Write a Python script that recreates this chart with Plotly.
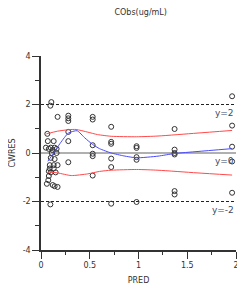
import plotly.graph_objects as go

# observed points
pred = [0.106, 0.096, 0.17, 0.065, 0.07, 0.13, 0.05, 0.08, 0.10, 0.12, 0.14, 0.16,
        0.11, 0.16, 0.10, 0.14, 0.09, 0.13, 0.17, 0.09, 0.13, 0.08, 0.10, 0.15,
        0.08, 0.075, 0.06, 0.12, 0.14, 0.17, 0.096,
        0.28, 0.28, 0.28, 0.28, 0.28, 0.28,
        0.53, 0.53, 0.53, 0.53, 0.53, 0.53,
        0.72, 0.72, 0.72, 0.72, 0.72, 0.72,
        0.98, 0.98, 0.98, 0.98, 0.98,
        1.37, 1.37, 1.37, 1.37, 1.37, 1.37,
        1.96, 1.96, 1.96, 1.96, 1.96]
cwres = [2.1, 1.95, 1.49, 0.79, 0.49, 0.49, 0.22, 0.17, 0.22, 0.12, 0.22, 0.17,
         0.0, 0.0, -0.2, -0.25, -0.5, -0.5, -0.5, -0.64, -0.64, -0.75, -0.8, -0.8,
         -0.95, -1.12, -1.27, -1.32, -1.37, -1.4, -2.12,
         1.54, 1.43, 1.32, 0.87, 0.49, -0.38,
         1.49, 1.38, 0.32, -0.03, -0.13, -0.93,
         1.08, 0.46, 0.38, -0.23, -0.58, -2.09,
         0.28, 0.21, -0.17, -0.28, -2.02,
         0.99, 0.14, 0.0, -0.06, -1.57, -1.71,
         2.34, 1.13, 0.26, -0.35, -1.64]

# smooth curves
med_x = [0.07, 0.12, 0.2, 0.28, 0.37, 0.45, 0.53, 0.6, 0.72, 0.85, 0.98, 1.2, 1.37, 1.6, 1.96]
med_y = [-0.34, -0.06, 0.42, 0.82, 0.92, 0.62, 0.35, 0.18, 0.0, -0.12, -0.2, -0.13, -0.02, 0.06, 0.18]
up_x = [0.055, 0.17, 0.28, 0.36, 0.48, 0.58, 0.72, 0.98, 1.2, 1.6, 1.96]
up_y = [0.79, 0.9, 0.96, 0.97, 0.86, 0.76, 0.69, 0.67, 0.7, 0.82, 0.93]
lo_x = [0.07, 0.17, 0.31, 0.48, 0.6, 0.72, 0.98, 1.2, 1.6, 1.96]
lo_y = [-0.78, -0.82, -0.93, -0.86, -0.76, -0.71, -0.68, -0.71, -0.82, -0.91]

ref_levels = [2, 0, -2]
ref_labels = ["y=2", "y=0", "y=-2"]

font = "DejaVu Sans"
fig = go.Figure()

fig.add_trace(go.Scatter(x=[0, 2], y=[0, 0], mode="lines",
                         line=dict(color="#b0b0b0", width=2), hoverinfo="skip"))
for lv in [2, -2]:
    fig.add_trace(go.Scatter(x=[0, 2], y=[lv, lv], mode="lines",
                             line=dict(color="#222222", width=1, dash="3px,2px"), hoverinfo="skip"))

fig.add_trace(go.Scatter(x=pred, y=cwres, mode="markers",
                         marker=dict(symbol="circle-open", size=5, color="#333333",
                                     line=dict(width=1, color="#333333"))))
fig.add_trace(go.Scatter(x=up_x, y=up_y, mode="lines",
                         line=dict(color="#ff4a4a", width=1, shape="spline", smoothing=0.6)))
fig.add_trace(go.Scatter(x=lo_x, y=lo_y, mode="lines",
                         line=dict(color="#ff4a4a", width=1, shape="spline", smoothing=0.6)))
fig.add_trace(go.Scatter(x=med_x, y=med_y, mode="lines",
                         line=dict(color="#4a4aff", width=1, shape="spline", smoothing=0.5)))

for lv, lab in zip(ref_levels, ref_labels):
    fig.add_annotation(x=2, y=lv, text=lab, showarrow=False, xanchor="right", yanchor="top",
                       yshift=-1, font=dict(family=font, size=9, color="#3a4a6a"))

fig.update_layout(
    width=237, height=285,
    margin=dict(l=33, r=9, t=48, b=43, autoexpand=False),
    paper_bgcolor="white", plot_bgcolor="white",
    showlegend=False,
    title=dict(text="CObs(ug/mL)", x=0.56, xanchor="center", y=0.985, yanchor="middle",
               font=dict(family=font, size=8, color="#333333")),
    font=dict(family=font, size=8, color="#333333"),
)
fig.update_xaxes(range=[0, 2], tickvals=[0, 0.5, 1, 1.5, 2], ticktext=["0", "0.5", "1", "1.5", "2"],
                 showgrid=False, zeroline=False, showline=True, linecolor="#333333", linewidth=1.5,
                 ticks="outside", ticklen=7, tickcolor="#333333", automargin=False,
                 minor=dict(tickvals=[0.25, 0.75, 1.25, 1.75], ticks="outside", ticklen=3, tickcolor="#333333"),
                 title=dict(text="PRED", font=dict(family=font, size=8, color="#333333"), standoff=8),
                 tickfont=dict(family=font, size=8, color="#333333"))
fig.update_yaxes(range=[-4, 4], tickvals=[-4, -2, 0, 2, 4], ticktext=["-4", "-2", "0", "2", "4"],
                 showgrid=False, zeroline=False, showline=True, linecolor="#333333", linewidth=1.5,
                 ticks="outside", ticklen=7, tickcolor="#333333", automargin=False,
                 minor=dict(tickvals=[-3, -1, 1, 3], ticks="outside", ticklen=4, tickcolor="#333333"),
                 title=dict(text="CWRES", font=dict(family=font, size=8, color="#333333"), standoff=8),
                 tickfont=dict(family=font, size=8, color="#333333"))

fig.write_html("out.html")
